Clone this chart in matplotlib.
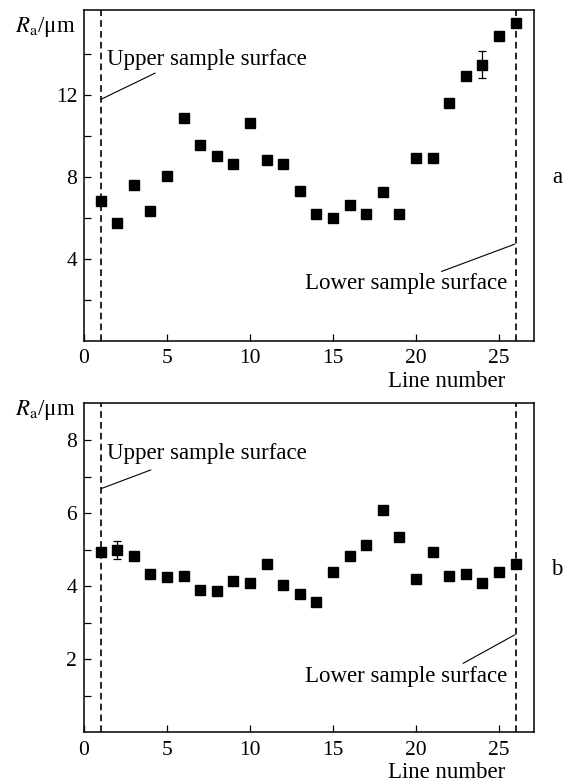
import matplotlib
matplotlib.use('Agg')
import matplotlib.pyplot as plt
from matplotlib.ticker import FixedLocator

plt.rcParams['font.family'] = ['Liberation Serif', 'DejaVu Serif']
plt.rcParams['mathtext.fontset'] = 'stix'

# line numbers across the sample
line_number = list(range(1, 27))

# panel a: roughness, um
ra_a = [6.81, 5.76, 7.60, 6.34, 8.03, 10.85, 9.55, 9.04, 8.62, 10.62,
        8.80, 8.62, 7.32, 6.17, 6.02, 6.63, 6.17, 7.24, 6.17, 8.93,
        8.93, 11.61, 12.90, 13.46, 14.86, 15.51]
err_a = [0, 0.15, 0, 0, 0, 0, 0, 0, 0, 0,
         0, 0, 0, 0, 0, 0, 0, 0, 0, 0,
         0, 0, 0, 0.65, 0, 0]

# panel b: roughness, um
ra_b = [4.95, 4.99, 4.84, 4.35, 4.25, 4.28, 3.90, 3.87, 4.15, 4.08,
        4.60, 4.04, 3.80, 3.58, 4.39, 4.84, 5.13, 6.09, 5.36, 4.19,
        4.95, 4.28, 4.33, 4.08, 4.39, 4.60]
err_b = [0.08, 0.25, 0, 0, 0, 0, 0, 0, 0, 0,
         0, 0, 0, 0, 0, 0, 0, 0, 0, 0,
         0, 0, 0, 0, 0, 0]

surface_lines = [1, 26]
x_ticks = [0, 5, 10, 15, 20, 25]

FS_TICK = 15.5
FS_TEXT = 16.5


def draw_panel(ax, y, yerr, ylim, major, minor, upper, lower, label_y):
    ax.errorbar(line_number, y, yerr=yerr, fmt='s', color='black', ms=7,
                ecolor='black', elinewidth=0.9, capsize=3, capthick=0.9)
    for xv in surface_lines:
        ax.axvline(xv, color='black', lw=1.2, ls=(0, (4, 2.5)))
    ax.set_xlim(0, 27.1)
    ax.set_ylim(*ylim)
    ax.xaxis.set_major_locator(FixedLocator(x_ticks))
    ax.yaxis.set_major_locator(FixedLocator(major))
    ax.yaxis.set_minor_locator(FixedLocator(minor))
    ax.tick_params(which='both', direction='in', labelsize=FS_TICK, width=0.9, length=5)
    ax.tick_params(axis='x', pad=6)
    ax.tick_params(axis='y', pad=5)
    for s in ax.spines.values():
        s.set_linewidth(1.1)

    # annotations for sample surfaces
    (utx, uty), (ulx0, uly0, ulx1, uly1) = upper
    ax.text(utx, uty, 'Upper sample surface', fontsize=FS_TEXT, ha='left', va='center')
    ax.annotate('', xy=(ulx0, uly0), xytext=(ulx1, uly1),
                arrowprops=dict(arrowstyle='-', lw=0.8, color='black', shrinkA=0, shrinkB=0))
    (ltx, lty), (llx0, lly0, llx1, lly1) = lower
    ax.text(ltx, lty, 'Lower sample surface', fontsize=FS_TEXT, ha='right', va='center')
    ax.annotate('', xy=(llx1, lly1), xytext=(llx0, lly0),
                arrowprops=dict(arrowstyle='-', lw=0.8, color='black', shrinkA=0, shrinkB=0))

    ax.text(-0.02, label_y, r'$R_\mathrm{a}$/μm', transform=ax.transAxes,
            fontsize=FS_TEXT, ha='right', va='center')
    ax.text(0.936, -0.122, 'Line number', transform=ax.transAxes,
            fontsize=FS_TEXT, ha='right', va='center')


fig = plt.figure(figsize=(5.66, 7.84), dpi=100)
ax_a = fig.add_axes([0.1484, 0.565, 0.795, 0.4222])
ax_b = fig.add_axes([0.1484, 0.0659, 0.795, 0.4204])

draw_panel(ax_a, ra_a, err_a, (0, 16.13), [4, 8, 12], [2, 6, 10, 14],
           ((1.36, 13.73), (1.05, 11.79, 4.29, 13.06)),
           ((25.52, 2.8), (21.53, 3.39, 25.94, 4.72)), 0.949)
draw_panel(ax_b, ra_b, err_b, (0, 9.03), [2, 4, 6, 8], [1, 3, 5, 7],
           ((1.36, 7.64), (1.05, 6.68, 4.03, 7.19)),
           ((25.52, 1.52), (22.83, 1.89, 25.94, 2.67)), 0.978)

fig.text(0.984, 0.774, 'a', fontsize=FS_TEXT, ha='center', va='center')
fig.text(0.984, 0.273, 'b', fontsize=FS_TEXT, ha='center', va='center')

fig.savefig('out.png', dpi=100)
